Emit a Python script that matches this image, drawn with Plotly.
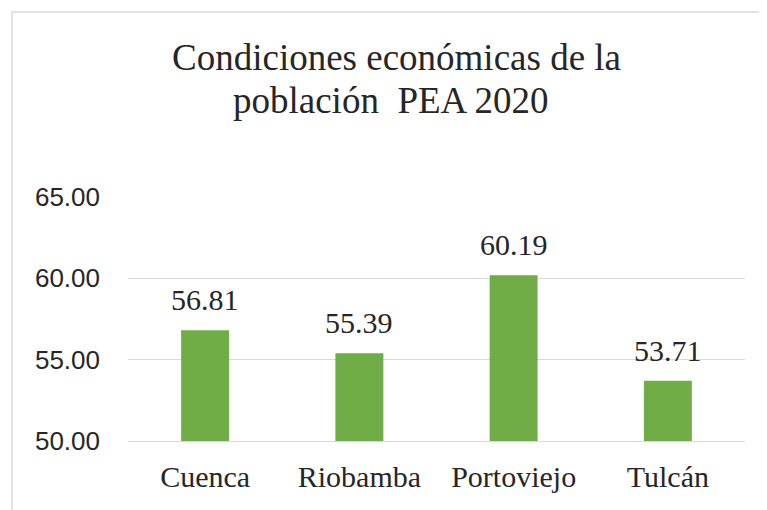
import plotly.graph_objects as go

categories = ["Cuenca", "Riobamba", "Portoviejo", "Tulcán"]
values = [56.81, 55.39, 60.19, 53.71]
title_lines = ["Condiciones económicas de la", "población  PEA 2020"]
y_ticks = [50, 55, 60, 65]

W, H = 767, 510
OFF = 8  # page body margin offset
L, R, T, B = 128 - OFF, 22 + OFF, 197 - OFF, 69 + OFF
plot_w = W - L - R
plot_h = H - T - B

def px_x(p):
    return (p - OFF - L) / plot_w

def px_y(p):
    return (H - B - (p - OFF)) / plot_h

serif = "Liberation Serif"
green = "#70AD47"
grid = "#D9D9D9"

fig = go.Figure(go.Bar(x=categories, y=values, marker=dict(color=green, line=dict(width=0)),
                       hoverinfo="x+y"))

annotations = []
for c, v in zip(categories, values):
    annotations.append(dict(x=c, y=v, xref="x", yref="y", text=f"{v:.2f}", showarrow=False,
                            yanchor="bottom", yshift=12,
                            font=dict(family=serif, size=30, color="#262626")))
annotations.append(dict(x=px_x(396), y=px_y(57), xref="paper", yref="paper", text=title_lines[0],
                        showarrow=False, xanchor="center", yanchor="middle",
                        font=dict(family=serif, size=37, color="#262626")))
annotations.append(dict(x=px_x(391), y=px_y(100), xref="paper", yref="paper", text=title_lines[1],
                        showarrow=False, xanchor="center", yanchor="middle",
                        font=dict(family=serif, size=37, color="#262626")))

fig.update_layout(
    width=W, height=H,
    margin=dict(l=L, r=R, t=T, b=B, pad=0),
    paper_bgcolor="white", plot_bgcolor="white",
    bargap=0.689,
    showlegend=False,
    annotations=annotations,
    shapes=[dict(type="rect", xref="paper", yref="paper",
                 x0=px_x(12), x1=px_x(800), y0=px_y(560), y1=px_y(12),
                 line=dict(color=grid, width=1.5), fillcolor="rgba(0,0,0,0)", layer="below")],
)
fig.update_yaxes(range=[50, 65], tickvals=y_ticks, ticktext=[f"{t:.2f}" for t in y_ticks],
                 showgrid=True, gridcolor=grid, gridwidth=1, zeroline=False, showline=False,
                 ticks="", ticklabelstandoff=27,
                 tickfont=dict(family="Liberation Sans", size=26, color="#262626"))
fig.update_xaxes(showline=True, linecolor=grid, linewidth=1, ticks="", showgrid=False,
                 ticklabelstandoff=9,
                 tickfont=dict(family=serif, size=30, color="#262626"))

fig.write_html("out.html")
